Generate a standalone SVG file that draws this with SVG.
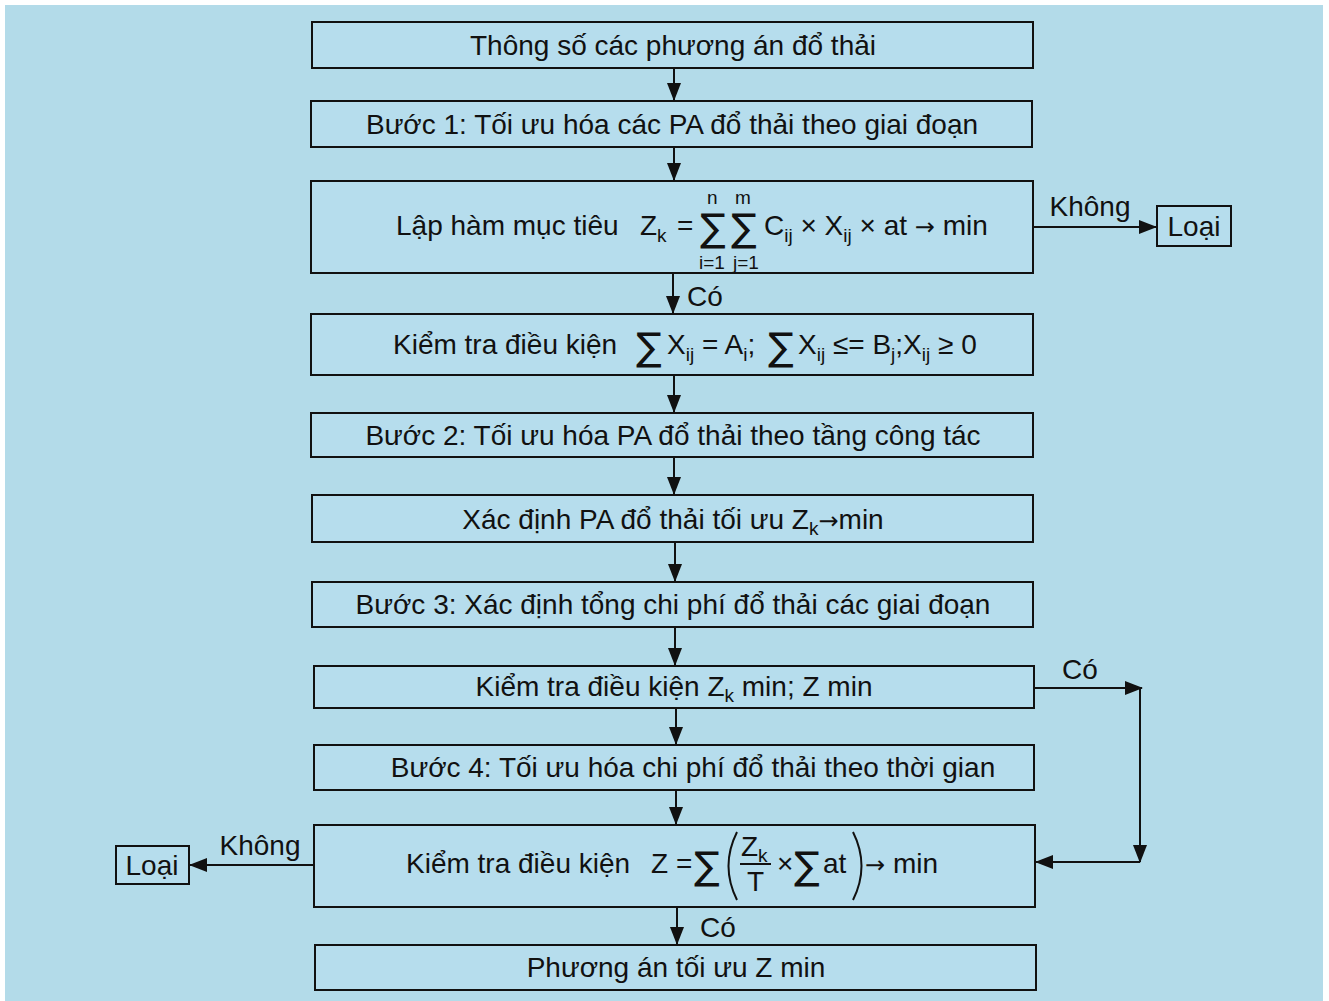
<svg xmlns="http://www.w3.org/2000/svg" width="1329" height="1001" viewBox="0 0 1329 1001">
<style>
.box{fill:#b6dded;stroke:#111;stroke-width:2}
.t{font-family:"Liberation Sans",Arial,sans-serif;font-size:28px;fill:#111}
.c{text-anchor:middle}
.s{font-size:19px}
.ar{font-family:"DejaVu Sans",sans-serif;font-size:24px}
.sg{font-family:"DejaVu Sans","Liberation Sans",sans-serif;font-size:38px;fill:#111}
.ln{stroke:#111;stroke-width:2;fill:none}
</style>
<defs>
<marker id="ah" markerUnits="userSpaceOnUse" markerWidth="18" markerHeight="14" refX="17" refY="7" orient="auto">
<path d="M0,0 L18,7 L0,14 Z" fill="#111"/>
</marker>
</defs>
<rect x="0" y="0" width="1329" height="1001" fill="#ffffff"/>
<rect x="5" y="5" width="1318" height="996" fill="#b3dbe9"/>

<g id="connectors">
<line class="ln" x1="674" y1="68" x2="674" y2="100" marker-end="url(#ah)"/>
<line class="ln" x1="674" y1="147" x2="674" y2="180" marker-end="url(#ah)"/>
<line class="ln" x1="673" y1="273" x2="673" y2="313" marker-end="url(#ah)"/>
<line class="ln" x1="674" y1="375" x2="674" y2="412" marker-end="url(#ah)"/>
<line class="ln" x1="674" y1="457" x2="674" y2="494" marker-end="url(#ah)"/>
<line class="ln" x1="675" y1="542" x2="675" y2="581" marker-end="url(#ah)"/>
<line class="ln" x1="675" y1="627" x2="675" y2="665" marker-end="url(#ah)"/>
<line class="ln" x1="676" y1="708" x2="676" y2="744" marker-end="url(#ah)"/>
<line class="ln" x1="676" y1="790" x2="676" y2="824" marker-end="url(#ah)"/>
<line class="ln" x1="677" y1="907" x2="677" y2="944" marker-end="url(#ah)"/>
<line class="ln" x1="1033" y1="227" x2="1156" y2="227" marker-end="url(#ah)"/>
<line class="ln" x1="1034" y1="688" x2="1142" y2="688" marker-end="url(#ah)"/>
<line class="ln" x1="1140" y1="688" x2="1140" y2="862" marker-end="url(#ah)"/>
<line class="ln" x1="1140" y1="862" x2="1036" y2="862" marker-end="url(#ah)"/>
<line class="ln" x1="314" y1="865" x2="190" y2="865" marker-end="url(#ah)"/>
<text class="t" x="1090" y="216" text-anchor="middle">Không</text>
<text class="t" x="705" y="306" text-anchor="middle">Có</text>
<text class="t" x="1080" y="679" text-anchor="middle">Có</text>
<text class="t" x="260" y="855" text-anchor="middle">Không</text>
<text class="t" x="718" y="937" text-anchor="middle">Có</text>
</g>

<g id="n1"><rect class="box" x="312" y="22" width="721" height="46"/>
<text class="t c" x="673" y="55">Thông số các phương án đổ thải</text></g>

<g id="n2"><rect class="box" x="311" y="101" width="721" height="46"/>
<text class="t c" x="672" y="134">Bước 1: Tối ưu hóa các PA đổ thải theo giai đoạn</text></g>

<g id="n3"><rect class="box" x="311" y="181" width="722" height="92"/>
<text class="t" x="396" y="235">Lập hàm mục tiêu</text>
<text class="t" x="640" y="235">Z<tspan class="s" dy="7">k</tspan></text>
<text class="t" x="677" y="235">=</text>
<text class="sg" x="700" y="241">∑</text>
<text class="sg" x="731" y="241">∑</text>
<text class="t s" x="707" y="204">n</text>
<text class="t s" x="735" y="204">m</text>
<text class="t s" x="699" y="269">i=1</text>
<text class="t s" x="733" y="269">j=1</text>
<text class="t" x="764" y="235">C<tspan class="s" dy="7">ij</tspan><tspan dy="-7"> × X</tspan><tspan class="s" dy="7">ij</tspan><tspan dy="-7"> × at </tspan><tspan class="ar">→</tspan><tspan> min</tspan></text>
</g>

<g id="n4"><rect class="box" x="311" y="314" width="722" height="61"/>
<text class="t" x="393" y="354">Kiểm tra điều kiện</text>
<text class="sg" x="636" y="360">∑</text>
<text class="t" x="667" y="354">X<tspan class="s" dy="7">ij</tspan><tspan dy="-7"> = A</tspan><tspan class="s" dy="7">i</tspan><tspan dy="-7">;</tspan></text>
<text class="sg" x="768" y="360">∑</text>
<text class="t" x="798" y="354">X<tspan class="s" dy="7">ij</tspan><tspan dy="-7"> ≤= B</tspan><tspan class="s" dy="7">j</tspan><tspan dy="-7">;X</tspan><tspan class="s" dy="7">ij</tspan><tspan dy="-7"> ≥ 0</tspan></text>
</g>

<g id="n5"><rect class="box" x="311" y="413" width="722" height="44"/>
<text class="t c" x="673" y="445">Bước 2: Tối ưu hóa PA đổ thải theo tầng công tác</text></g>

<g id="n6"><rect class="box" x="312" y="495" width="721" height="47"/>
<text class="t c" x="673" y="529">Xác định PA đổ thải tối ưu Z<tspan class="s" dy="6">k</tspan><tspan class="ar" dy="-6">→</tspan><tspan>min</tspan></text></g>

<g id="n7"><rect class="box" x="312" y="582" width="721" height="45"/>
<text class="t c" x="673" y="614">Bước 3: Xác định tổng chi phí đổ thải các giai đoạn</text></g>

<g id="n8"><rect class="box" x="314" y="666" width="720" height="42"/>
<text class="t c" x="674" y="696">Kiểm tra điều kiện Z<tspan class="s" dy="6">k</tspan><tspan dy="-6"> min; Z min</tspan></text></g>

<g id="n9"><rect class="box" x="314" y="745" width="720" height="45"/>
<text class="t c" x="693" y="777">Bước 4: Tối ưu hóa chi phí đổ thải theo thời gian</text></g>

<g id="n10"><rect class="box" x="314" y="825" width="721" height="82"/>
<text class="t" x="406" y="873">Kiểm tra điều kiện</text>
<text class="t" x="651" y="873">Z =</text>
<text class="sg" x="694" y="879">∑</text>
<path class="ln" d="M737,832 Q720,866 737,900"/>
<text class="t" x="741" y="856">Z<tspan class="s" dy="6">k</tspan></text>
<line class="ln" x1="740" y1="864" x2="771" y2="864"/>
<text class="t" x="747" y="891">T</text>
<text class="t" x="777" y="873">×</text>
<text class="sg" x="794" y="879">∑</text>
<text class="t" x="823" y="873">at</text>
<path class="ln" d="M853,832 Q870,866 853,900"/>
<text class="t" x="865" y="873"><tspan class="ar">→</tspan> min</text>
</g>

<g id="n11"><rect class="box" x="315" y="945" width="721" height="45"/>
<text class="t c" x="676" y="977">Phương án tối ưu Z min</text></g>

<g id="loai1"><rect class="box" x="1157" y="206" width="74" height="40"/>
<text class="t c" x="1194" y="236">Loại</text></g>

<g id="loai2"><rect class="box" x="116" y="846" width="73" height="38"/>
<text class="t c" x="152" y="875">Loại</text></g>
</svg>
